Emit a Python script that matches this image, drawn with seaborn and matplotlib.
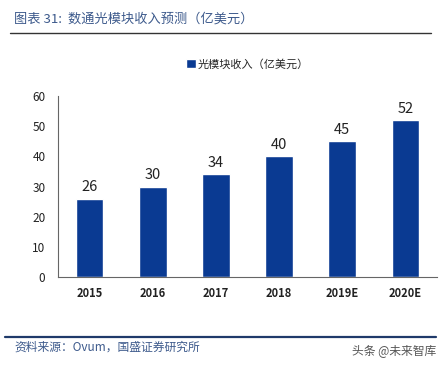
import matplotlib
matplotlib.use("Agg")
import matplotlib.pyplot as plt
import seaborn as sns
import pandas as pd

# 数据
years = ["2015", "2016", "2017", "2018", "2019E", "2020E"]
revenue = [26, 30, 34, 40, 45, 52]
series_name = "光模块收入（亿美元）"

sns.set_style("white")
plt.rcParams['font.family'] = ['Noto Sans CJK SC', 'DejaVu Sans']

df = pd.DataFrame({"year": years, "revenue": revenue})

fig = plt.figure(figsize=(4.47, 3.67), dpi=100)
ax = fig.add_axes([58 / 447, 1 - 277 / 367, (437 - 58) / 447, (277 - 96) / 367])

bar_color = "#0a3a92"
sns.barplot(data=df, x="year", y="revenue", color=bar_color, width=0.44,
            ax=ax, label=series_name, saturation=1)

for i, v in enumerate(revenue):
    ax.text(i, v + 1.5, str(v), ha="center", va="bottom", fontsize=10.5, color="#222222")

ax.set_ylim(0, 60)
ax.set_yticks(range(0, 61, 10))
ax.set_xlabel("")
ax.set_ylabel("")
for s in ["top", "right"]:
    ax.spines[s].set_visible(False)
ax.spines["left"].set_color("#666666")
ax.spines["bottom"].set_color("#666666")
ax.tick_params(axis="y", length=3, color="#666666", labelsize=8.5, labelcolor="#222222", pad=6)
ax.tick_params(axis="x", length=0, labelsize=8, labelcolor="#222222", pad=7)
for t in ax.get_xticklabels():
    t.set_fontweight("bold")

leg = ax.legend(loc="upper center", bbox_to_anchor=(0.5, 1.26), frameon=False,
                fontsize=8, handlelength=0.9, handleheight=0.9, handletextpad=0.2)

# 标题与注释
fig.text(14 / 447, 1 - 19 / 367, "图表 31:  数通光模块收入预测（亿美元）", fontsize=9.5,
         color="#3d5a8c", style="italic", va="center")
fig.add_artist(plt.Line2D([10 / 447, 431 / 447], [1 - 33 / 367, 1 - 33 / 367],
                          color="#333333", linewidth=1.0))
fig.add_artist(plt.Line2D([5 / 447, 436 / 447], [1 - 337 / 367, 1 - 337 / 367],
                          color="#1f3a6a", linewidth=1.6))
fig.text(14 / 447, 1 - 347 / 367, "资料来源：Ovum，国盛证券研究所", fontsize=8.5,
         color="#3d5a8c", style="italic", va="center")
fig.text(436 / 447, 1 - 352 / 367, "头条 @未来智库", fontsize=8.5,
         color="#555555", ha="right", va="center")

fig.savefig("out.png", dpi=100)
